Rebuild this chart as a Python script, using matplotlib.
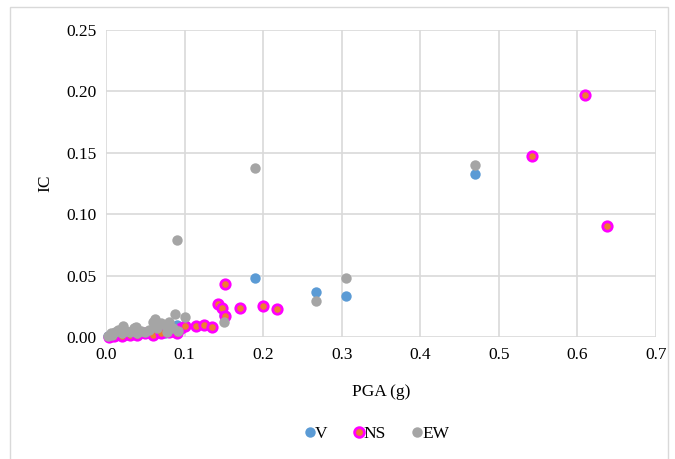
import matplotlib
matplotlib.use('Agg')
import matplotlib.pyplot as plt
from matplotlib.lines import Line2D
from matplotlib.patches import Rectangle

plt.rcParams['font.family'] = ['Liberation Serif', 'DejaVu Serif']

# ── Dados ──────────────────────────────────────────────────────────────────────
v_pga = [0.003, 0.008, 0.012, 0.018, 0.025, 0.03, 0.038, 0.045, 0.05, 0.058,
         0.065, 0.07, 0.075, 0.08, 0.09, 0.095, 0.15, 0.19, 0.267, 0.305, 0.47]
v_ic  = [0.0005, 0.001, 0.001, 0.002, 0.002, 0.003, 0.002, 0.004, 0.003, 0.004,
         0.005, 0.004, 0.003, 0.006, 0.010, 0.008, 0.018, 0.048, 0.037, 0.033, 0.133]

ns_pga = [0.004, 0.01, 0.02, 0.03, 0.04, 0.05, 0.055, 0.06, 0.07, 0.08, 0.085,
          0.09, 0.095, 0.10, 0.115, 0.125, 0.135, 0.142, 0.148, 0.152, 0.152,
          0.17, 0.20, 0.218, 0.542, 0.61, 0.638]
ns_ic  = [0.0, 0.001, 0.001, 0.002, 0.002, 0.003, 0.004, 0.002, 0.003, 0.004, 0.005,
          0.003, 0.007, 0.009, 0.009, 0.010, 0.008, 0.027, 0.024, 0.043, 0.017,
          0.024, 0.025, 0.023, 0.147, 0.197, 0.090]

ew_pga = [0.003, 0.006, 0.008, 0.012, 0.015, 0.02, 0.022, 0.025, 0.03, 0.035, 0.038,
          0.04, 0.045, 0.05, 0.055, 0.06, 0.062, 0.065, 0.07, 0.075, 0.078, 0.08,
          0.085, 0.088, 0.09, 0.092, 0.10, 0.15, 0.19, 0.267, 0.305, 0.47]
ew_ic  = [0.001, 0.003, 0.002, 0.004, 0.006, 0.003, 0.009, 0.005, 0.004, 0.007, 0.008,
          0.003, 0.005, 0.004, 0.006, 0.012, 0.015, 0.007, 0.011, 0.010, 0.004, 0.012,
          0.007, 0.019, 0.079, 0.005, 0.016, 0.012, 0.138, 0.029, 0.048, 0.140]

AZUL    = '#5B9BD5'
LARANJA = '#ED7D31'
MAGENTA = '#FF00FF'
CINZA   = '#A5A5A5'
GRADE   = '#D9D9D9'

# ── Figura ─────────────────────────────────────────────────────────────────────
fig = plt.figure(figsize=(6.75, 4.59), dpi=100, facecolor='white')
ax = fig.add_axes([106 / 675, 1 - 337 / 459, 550 / 675, 307 / 459])

ax.scatter(v_pga, v_ic, s=56, color=AZUL, linewidths=0, zorder=3, clip_on=False)
ax.scatter(ns_pga, ns_ic, s=46, color=LARANJA, edgecolors=MAGENTA,
           linewidths=2.0, zorder=4, clip_on=False)
ax.scatter(ew_pga, ew_ic, s=56, color=CINZA, linewidths=0, zorder=5, clip_on=False)

ax.set_xlim(0, 0.7)
ax.set_ylim(0, 0.25)
ax.set_xticks([i / 10 for i in range(8)])
ax.set_yticks([i * 0.05 for i in range(6)])
ax.set_xticklabels([f'{i / 10:.1f}' for i in range(8)])
ax.set_yticklabels([f'{i * 0.05:.2f}' for i in range(6)])
ax.tick_params(length=0, labelsize=12.5, colors='black', pad=7)
ax.grid(True, color=GRADE, linewidth=1.2, zorder=0)
ax.set_axisbelow(True)
for s in ax.spines.values():
    s.set_visible(False)

ax.set_xlabel('PGA (g)', fontsize=12.5, labelpad=15)
ax.set_ylabel('IC', fontsize=12.5, labelpad=9)

handles = [
    Line2D([], [], marker='o', linestyle='', color=AZUL, markersize=7.5, markeredgewidth=0),
    Line2D([], [], marker='o', linestyle='', markerfacecolor=LARANJA,
           markeredgecolor=MAGENTA, markersize=7, markeredgewidth=2.0),
    Line2D([], [], marker='o', linestyle='', color=CINZA, markersize=7.5, markeredgewidth=0),
]
fig.legend(handles, ['V', 'NS', 'EW'], loc='center', bbox_to_anchor=(0.556, 1 - 434 / 459),
           ncol=3, frameon=False, fontsize=12.5, handletextpad=-0.2,
           columnspacing=1.3, handlelength=1.0)

# borda da área do gráfico
fig.patches.append(Rectangle((10 / 675, -0.02), 658 / 675, 1 - 7 / 459 + 0.02,
                             transform=fig.transFigure, fill=False,
                             edgecolor=GRADE, linewidth=1))

fig.savefig('out.png', dpi=100, facecolor='white')
